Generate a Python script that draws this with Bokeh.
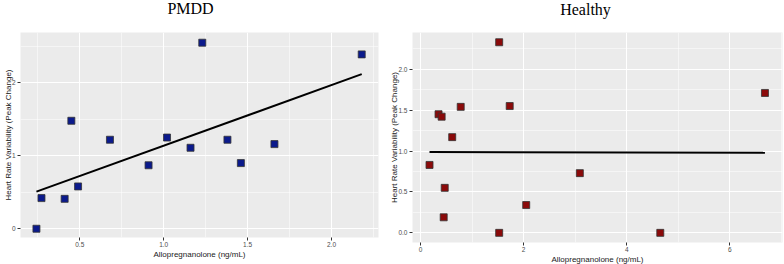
import numpy as np
from bokeh.plotting import figure
from bokeh.layouts import row
from bokeh.models import FixedTicker, Range1d, Label
from bokeh.embed import file_html
from bokeh.resources import INLINE

# ---- data ----
pmdd_allo = [0.242, 0.272, 0.41, 0.45, 0.49, 0.68, 0.91, 1.02, 1.16, 1.23, 1.38, 1.46, 1.66, 2.18]
pmdd_hrv = [0.00, 0.42, 0.41, 1.48, 0.58, 1.22, 0.87, 1.25, 1.11, 2.55, 1.22, 0.90, 1.16, 2.39]

healthy_allo = [1.526, 6.68, 0.35, 0.41, 0.78, 1.73, 0.615, 0.175, 0.47, 3.09, 0.45, 2.05, 1.526, 4.65]
healthy_hrv = [2.33, 1.71, 1.45, 1.42, 1.54, 1.55, 1.17, 0.83, 0.55, 0.73, 0.19, 0.34, 0.00, 0.00]

pmdd_xticks = [0.5, 1.0, 1.5, 2.0]
pmdd_xtick_labels = ["0.5", "1.0", "1.5", "2.0"]
pmdd_xminor = [0.25, 0.75, 1.25, 1.75, 2.25]
pmdd_yticks = [0, 1, 2]
pmdd_ytick_labels = ["0", "1", "2"]
pmdd_yminor = [0.5, 1.5, 2.5]

healthy_xticks = [0, 2, 4, 6]
healthy_xtick_labels = ["0", "2", "4", "6"]
healthy_xminor = [1, 3, 5, 7]
healthy_yticks = [0.0, 0.5, 1.0, 1.5, 2.0]
healthy_ytick_labels = ["0.0", "0.5", "1.0", "1.5", "2.0"]
healthy_yminor = [0.25, 0.75, 1.25, 1.75, 2.25]

x_label = "Allopregnanolone (ng/mL)"
y_label = "Heart Rate Variability (Peak Change)"

SANS = "Liberation Sans"
SERIF = "Liberation Serif"


def make_panel(title, xs, ys, xr, yr, xt, xtl, xmin, yt, ytl, ymin, color,
               fw, fh, bl, br, bt, bb, tx, ty):
    p = figure(frame_width=fw, frame_height=fh, x_range=Range1d(*xr), y_range=Range1d(*yr),
               output_backend="svg", toolbar_location=None,
               min_border_left=bl, min_border_right=br, min_border_top=bt, min_border_bottom=bb)
    p.background_fill_color = "#EBEBEB"
    p.border_fill_color = "white"
    p.outline_line_color = None

    # panel title, placed in the panel above the frame
    p.add_layout(Label(text=title, x=tx, y=ty, x_units="screen", y_units="screen",
                       text_align="center", text_baseline="alphabetic",
                       text_font=SERIF, text_font_size="16px", text_color="#000000"),
                 "above")

    p.xaxis.ticker = FixedTicker(ticks=xt, minor_ticks=xmin)
    p.yaxis.ticker = FixedTicker(ticks=yt, minor_ticks=ymin)
    p.xaxis.major_label_overrides = {float(t): l for t, l in zip(xt, xtl)}
    p.yaxis.major_label_overrides = {float(t): l for t, l in zip(yt, ytl)}
    for ax in (p.xaxis, p.yaxis):
        ax.axis_line_color = None
        ax.major_tick_line_color = "#333333"
        ax.major_tick_line_width = 1
        ax.major_tick_in = 0
        ax.major_tick_out = 3
        ax.minor_tick_line_color = None
        ax.major_label_text_font = SANS
        ax.major_label_text_font_size = "6.5px"
        ax.major_label_text_color = "#4D4D4D"
        ax.axis_label_text_font = SANS
        ax.axis_label_text_font_size = "8px"
        ax.axis_label_text_font_style = "normal"
        ax.axis_label_text_color = "#1A1A1A"
    p.xaxis.axis_label = x_label
    p.yaxis.axis_label = y_label
    p.xaxis.major_label_standoff = 0
    p.xaxis.axis_label_standoff = 0
    p.yaxis.major_label_standoff = 1
    p.yaxis.axis_label_standoff = -4

    for g in (p.xgrid, p.ygrid):
        g.grid_line_color = "white"
        g.grid_line_width = 1.1
        g.minor_grid_line_color = "white"
        g.minor_grid_line_width = 0.5
    p.xgrid.ticker = p.xaxis.ticker
    p.ygrid.ticker = p.yaxis.ticker

    # linear fit line (lm, no SE)
    xa = np.array(xs, dtype=float)
    ya = np.array(ys, dtype=float)
    b, a = np.polyfit(xa, ya, 1)
    fx = [xa.min(), xa.max()]
    fy = [a + b * v for v in fx]
    p.line(fx, fy, line_color="black", line_width=2)

    p.scatter(xs, ys, marker="square", size=7, fill_color=color,
              line_color="#333333", line_width=0.8)
    return p


p1 = make_panel("PMDD", pmdd_allo, pmdd_hrv, (0.147, 2.28), (-0.12, 2.69),
                pmdd_xticks, pmdd_xtick_labels, pmdd_xminor,
                pmdd_yticks, pmdd_ytick_labels, pmdd_yminor, "#0B1A8C",
                358, 205, 19, 8, 32, 27, 170, 24)
p2 = make_panel("Healthy", healthy_allo, healthy_hrv, (-0.155, 7.02), (-0.118, 2.449),
                healthy_xticks, healthy_xtick_labels, healthy_xminor,
                healthy_yticks, healthy_ytick_labels, healthy_yminor, "#8B0A0A",
                370, 210, 26, 2, 30, 24, 173, 23)

layout = row(p1, p2, spacing=0)
open("out.html", "w").write(file_html(layout, INLINE))
